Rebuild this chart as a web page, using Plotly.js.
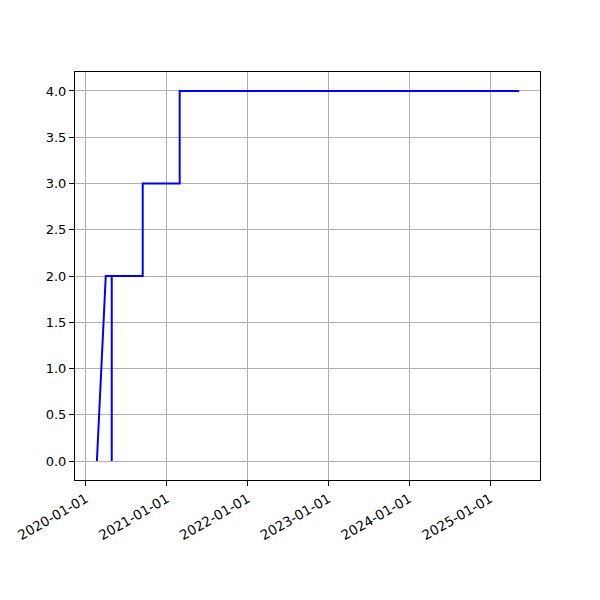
<!DOCTYPE html>
<html>
<head>
<meta charset="utf-8">
<script src="https://cdn.plot.ly/plotly-3.0.1.min.js"></script>
<style>html,body{margin:0;padding:0;background:#fff}#chart{width:600px;height:600px}</style>
</head>
<body>
<div id="chart"></div>
<script>
const dates = ['2020-02-20','2020-03-31','2020-04-27','2020-04-27','2020-04-27','2020-09-14','2020-09-14','2021-02-28','2021-02-28','2025-05-12'];
const values = [0,2,2,0,2,2,3,3,4,4];
const xTicks = ['2020-01-01','2021-01-01','2022-01-01','2023-01-01','2024-01-01','2025-01-01'];

const trace = {x: dates, y: values, type: 'scatter', mode: 'lines', line: {color: 'blue', width: 2}, hoverinfo: 'skip'};
const layout = {
  width: 600, height: 600,
  margin: {l: 75, r: 60, t: 72, b: 120},
  paper_bgcolor: '#fff', plot_bgcolor: '#fff',
  font: {family: 'DejaVu Sans', size: 13, color: '#000'},
  showlegend: false,
  xaxis: {
    type: 'date', range: ['2019-11-13', '2025-08-14'],
    tickvals: xTicks, ticktext: xTicks, tickangle: -30,
    tickfont: {family: 'DejaVu Sans', size: 13.5, color: '#000'},
    showgrid: true, gridcolor: '#b0b0b0', gridwidth: 1,
    showline: true, linecolor: '#000', linewidth: 1, mirror: true,
    ticks: 'outside', ticklen: 5, tickcolor: '#000', zeroline: false
  },
  yaxis: {
    range: [-0.205, 4.205], dtick: 0.5, tick0: 0, tickformat: '.1f',
    showgrid: true, gridcolor: '#b0b0b0', gridwidth: 1,
    showline: true, linecolor: '#000', linewidth: 1, mirror: true,
    ticks: 'outside', ticklen: 5, tickcolor: '#000', zeroline: false
  }
};
Plotly.newPlot('chart', [trace], layout, {displayModeBar: false, staticPlot: true});
</script>
</body>
</html>
